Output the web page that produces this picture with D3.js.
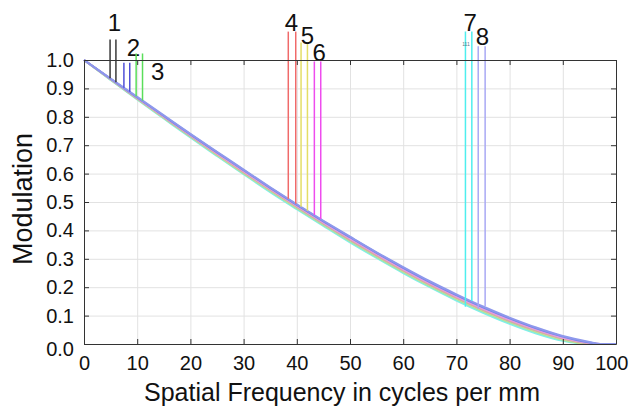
<!DOCTYPE html>
<html>
<head>
<meta charset="utf-8">
<script src="https://cdn.jsdelivr.net/npm/d3@7"></script>
<style>
    body { margin: 0; background: #fff; }
    svg { display: block; font-family: 'Liberation Sans', Arial, sans-serif; }
    .grid line { stroke: #e2e2e2; stroke-width: 1; }
    .grid .domain { display: none; }
    .ticks .tick line, .ticks .domain { stroke: #333; }
    .ticks text { font-size: 20px; fill: #111; }
</style>
</head>
<body>
<div class="canvas"></div>
<script>
// frequencies (cycles per mm) where the curves were read
const freqs = [0, 5, 10, 15, 20, 25, 30, 35, 40, 45, 50, 55, 60, 65, 70, 75, 80, 85, 90, 95, 97, 100];

// modulation per field point
const mtf7 = [1, 0.930, 0.861, 0.794, 0.727, 0.662, 0.598, 0.535, 0.475, 0.416, 0.358, 0.303, 0.250, 0.200, 0.153, 0.110, 0.071, 0.037, 0.011, 0, 0, 0];
const mtf3 = [1, 0.931, 0.863, 0.796, 0.730, 0.665, 0.601, 0.539, 0.478, 0.419, 0.362, 0.307, 0.254, 0.204, 0.158, 0.115, 0.076, 0.042, 0.015, 0, 0, 0];
const mtf5 = [1, 0.932, 0.864, 0.798, 0.732, 0.667, 0.603, 0.541, 0.481, 0.422, 0.365, 0.310, 0.257, 0.207, 0.161, 0.118, 0.079, 0.045, 0.017, 0.001, 0, 0];
const mtf1 = [1, 0.932, 0.865, 0.799, 0.733, 0.669, 0.605, 0.543, 0.483, 0.424, 0.367, 0.312, 0.259, 0.209, 0.163, 0.120, 0.081, 0.047, 0.019, 0.002, 0, 0];
const mtf4 = [1, 0.933, 0.866, 0.800, 0.735, 0.670, 0.607, 0.545, 0.485, 0.426, 0.369, 0.314, 0.261, 0.211, 0.165, 0.122, 0.083, 0.049, 0.021, 0.003, 0, 0];
const mtf6 = [1, 0.933, 0.867, 0.801, 0.736, 0.672, 0.609, 0.547, 0.487, 0.428, 0.372, 0.317, 0.264, 0.214, 0.168, 0.125, 0.086, 0.052, 0.023, 0.004, 0, 0];
const mtf2 = [1, 0.934, 0.868, 0.803, 0.738, 0.675, 0.612, 0.550, 0.490, 0.432, 0.376, 0.321, 0.268, 0.218, 0.172, 0.129, 0.090, 0.055, 0.026, 0.005, 0, 0];
const mtf8 = [1, 0.935, 0.870, 0.805, 0.740, 0.677, 0.614, 0.552, 0.492, 0.434, 0.378, 0.323, 0.271, 0.221, 0.175, 0.132, 0.093, 0.058, 0.028, 0.007, 0, 0];

// drawn bottom to top
const curves = [
    { name: '7', values: mtf7, color: '#80efe9' },
    { name: '3', values: mtf3, color: '#a3e6a3' },
    { name: '5', values: mtf5, color: '#dcd98c' },
    { name: '1', values: mtf1, color: '#b4b4b4' },
    { name: '4', values: mtf4, color: '#eba3a3' },
    { name: '6', values: mtf6, color: '#e49be8' },
    { name: '2', values: mtf2, color: '#7088e6' },
    { name: '8', values: mtf8, color: '#8e98ec' }
];

// marker lines: two frequencies each, top and bottom modulation
const markerNames = ['1', '2', '3', '4', '5', '6', '7', '8'];
const markerFreqs = [[4.9, 6.0], [7.5, 8.6], [9.8, 11.0], [38.4, 39.8], [40.8, 42.0], [43.3, 44.5], [71.7, 72.9], [74.1, 75.4]];
const markerTops = [1.072, 0.99, 1.023, 1.10, 1.062, 0.995, 1.10, 1.048];
const markerBottoms = [[0.936, 0.922], [0.902, 0.888], [0.872, 0.857], [0.511, 0.494], [0.483, 0.469], [0.454, 0.440], [0.131, 0.151], [0.124, 0.133]];
const markerColors = ['#3a3a3a', '#5050d8', '#5ade5a', '#f06a6a', '#e4de66', '#ee4cee', '#4eeeee', '#a8a8f4'];
// label anchor (frequency, modulation)
const labelFreqs = [5.7, 9.3, 13.85, 39.0, 42.0, 44.2, 72.6, 74.9];
const labelMods = [1.132, 1.044, 0.96, 1.132, 1.086, 1.026, 1.132, 1.083];

const xTicks = [0, 10, 20, 30, 40, 50, 60, 70, 80, 90, 100];
const yTicks = [0, 0.1, 0.2, 0.3, 0.4, 0.5, 0.6, 0.7, 0.8, 0.9, 1.0];

const dims = { width: 630, height: 409 };
const margin = { left: 84, top: 60 };
const plot = { width: 532, height: 284 };

const svg = d3.select('.canvas')
    .append('svg')
    .attr('width', dims.width)
    .attr('height', dims.height);

const graph = svg.append('g')
    .attr('transform', `translate(${margin.left}, ${margin.top})`);

const x = d3.scaleLinear().domain([0, 100]).range([0, plot.width]);
const y = d3.scaleLinear().domain([0, 1]).range([plot.height, 0]);

// grid
graph.append('g')
    .attr('class', 'grid')
    .attr('transform', `translate(0, ${plot.height})`)
    .call(d3.axisBottom(x).tickValues(xTicks).tickSize(-plot.height).tickFormat(''));
graph.append('g')
    .attr('class', 'grid')
    .call(d3.axisLeft(y).tickValues(yTicks).tickSize(-plot.width).tickFormat(''));

// curves
const line = d3.line()
    .x((d, i) => x(freqs[i]))
    .y(d => y(d))
    .curve(d3.curveMonotoneX);

graph.selectAll('path.curve')
    .data(curves)
    .enter()
    .append('path')
    .attr('class', 'curve')
    .attr('fill', 'none')
    .attr('stroke', d => d.color)
    .attr('stroke-width', 2)
    .attr('d', d => line(d.values));

// marker lines
markerNames.forEach((name, i) => {
    markerFreqs[i].forEach((f, j) => {
        graph.append('line')
            .attr('x1', x(f)).attr('x2', x(f))
            .attr('y1', y(markerTops[i])).attr('y2', y(markerBottoms[i][j]))
            .attr('stroke', markerColors[i])
            .attr('stroke-width', 1.5);
    });
    graph.append('text')
        .attr('x', x(labelFreqs[i]))
        .attr('y', y(labelMods[i]))
        .attr('text-anchor', 'middle')
        .attr('dy', '0.36em')
        .attr('font-size', 24)
        .attr('fill', '#111')
        .text(name);
});

// tiny note by the cyan markers
graph.append('text')
    .attr('x', x(71.8))
    .attr('y', y(1.048))
    .attr('text-anchor', 'middle')
    .attr('font-size', 5)
    .attr('fill', '#5a7d8c')
    .text('111');

// frame ticks
const bottomAxis = graph.append('g')
    .attr('class', 'ticks')
    .attr('transform', `translate(0, ${plot.height})`)
    .call(d3.axisBottom(x).tickValues(xTicks).tickSizeInner(-5).tickSizeOuter(0).tickPadding(12));
// keep the last label inside the page
bottomAxis.selectAll('.tick text')
    .filter(d => d === 100)
    .attr('text-anchor', 'end')
    .attr('x', 12);

const leftAxis = graph.append('g')
    .attr('class', 'ticks')
    .call(d3.axisLeft(y).tickValues(yTicks).tickSizeInner(-5).tickSizeOuter(0).tickPadding(10)
        .tickFormat(d3.format('.1f')));
leftAxis.selectAll('.tick text')
    .filter(d => d === 0)
    .attr('y', 5);

graph.append('g')
    .attr('class', 'ticks')
    .call(d3.axisTop(x).tickValues(xTicks).tickSizeInner(-5).tickSizeOuter(0).tickFormat(''));
graph.append('g')
    .attr('class', 'ticks')
    .attr('transform', `translate(${plot.width}, 0)`)
    .call(d3.axisRight(y).tickValues(yTicks).tickSizeInner(-5).tickSizeOuter(0).tickFormat(''));

// axis titles
svg.append('text')
    .attr('x', 342)
    .attr('y', 401)
    .attr('text-anchor', 'middle')
    .attr('font-size', 25)
    .attr('fill', '#111')
    .text('Spatial Frequency in cycles per mm');

svg.append('text')
    .attr('transform', 'translate(32, 199) rotate(-90)')
    .attr('text-anchor', 'middle')
    .attr('font-size', 27)
    .attr('fill', '#111')
    .text('Modulation');
</script>
</body>
</html>
